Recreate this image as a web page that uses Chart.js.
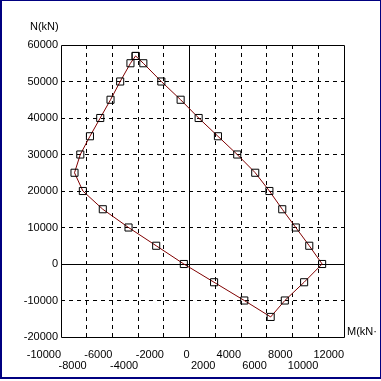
<!DOCTYPE html>
<html>
<head>
<meta charset="utf-8">
<script src="https://cdn.jsdelivr.net/npm/chart.js@4.4.0/dist/chart.umd.min.js"></script>
<style>
  html, body { margin: 0; padding: 0; background: #fff; }
  #wrap { position: relative; width: 381px; height: 381px; }
  #frame {
    position: absolute; left: 0; top: 0; width: 381px; height: 379px;
    box-sizing: border-box; pointer-events: none;
    border-top: 1px solid #000080; border-left: 2px solid #000080;
    border-right: 1px solid #000080; border-bottom: 2px solid #000080;
  }
</style>
</head>
<body>
<div id="wrap">
  <canvas id="mnChart" width="381" height="381"></canvas>
  <div id="frame"></div>
</div>
<script>
// M-N interaction curve (kN·m, kN)
const momentM = [-4200, -3600, -2200, -700, 700, 2200, 3700, 5100, 6200, 7200, 8250, 9300, 10300,
                 8900, 7400, 6300, 4250, 1900, -450, -2600, -4750, -6750, -8300, -8950, -8500,
                 -7750, -6950, -6150, -5400, -4600, -4200];
const axialN = [57000, 55000, 50000, 45000, 40000, 35000, 30000, 25000, 20000, 15000, 10000, 5000, 0,
                -5000, -10000, -14500, -10000, -5000, 0, 5000, 10000, 15000, 20000, 25000, 30000,
                35000, 40000, 45000, 50000, 55000, 57000];

// x tick labels that sit on the second row
const lowerRowTicks = [-8000, -4000, 2000, 6000, 10000];

const FONT = 'Liberation Sans, Arial, sans-serif';

const gridPlugin = {
    id: 'gridPlugin',
    beforeDatasetsDraw(chart) {
        const { ctx, chartArea: a, scales: { x, y } } = chart;
        ctx.save();
        ctx.strokeStyle = '#000';
        ctx.lineWidth = 1;
        ctx.setLineDash([4, 4]);
        ctx.beginPath();
        x.ticks.forEach(t => {
            if (t.value === 0 || t.value === x.min || t.value === x.max) return;
            const px = Math.floor(x.getPixelForValue(t.value)) + 0.5;
            ctx.moveTo(px, a.top);
            ctx.lineTo(px, a.bottom);
        });
        y.ticks.forEach(t => {
            if (t.value === 0 || t.value === y.min || t.value === y.max) return;
            const py = Math.floor(y.getPixelForValue(t.value)) + 0.5;
            ctx.moveTo(a.left, py);
            ctx.lineTo(a.right, py);
        });
        ctx.stroke();

        // zero axes and plot frame
        ctx.setLineDash([]);
        ctx.beginPath();
        const x0 = Math.floor(x.getPixelForValue(0)) + 0.5;
        const y0 = Math.floor(y.getPixelForValue(0)) + 0.5;
        ctx.moveTo(x0, a.top); ctx.lineTo(x0, a.bottom);
        ctx.moveTo(a.left, y0); ctx.lineTo(a.right, y0);
        ctx.rect(Math.floor(a.left) + 0.5, Math.floor(a.top) + 0.5,
                 Math.round(a.right - a.left), Math.round(a.bottom - a.top));
        ctx.stroke();
        ctx.restore();
    },
    afterDraw(chart) {
        const { ctx, chartArea: a } = chart;
        ctx.save();
        ctx.fillStyle = '#000';
        ctx.font = '11px ' + FONT;
        ctx.textBaseline = 'middle';
        ctx.textAlign = 'left';
        ctx.fillText('N(kN)', 30, 27);
        // axis title runs off the window edge in the original
        ctx.beginPath();
        ctx.rect(0, 0, 377, 381);
        ctx.clip();
        ctx.fillText('M(kN·m)', a.right + 3, a.bottom - 5);
        ctx.restore();
    }
};

const ctx = document.getElementById('mnChart').getContext('2d');

new Chart(ctx, {
    type: 'scatter',
    data: {
        datasets: [{
            data: momentM.map((m, i) => ({ x: m, y: axialN[i] })),
            showLine: true,
            borderColor: '#800000',
            borderWidth: 1,
            pointStyle: 'rect',
            pointRadius: 5,
            pointHoverRadius: 5,
            pointBorderColor: '#000',
            pointBorderWidth: 1,
            pointBackgroundColor: 'rgba(0,0,0,0)',
            tension: 0
        }]
    },
    options: {
        responsive: false,
        animation: false,
        events: [],
        layout: { padding: { top: 45, right: 37, bottom: 0, left: 0 } },
        plugins: {
            legend: { display: false },
            tooltip: { enabled: false }
        },
        scales: {
            x: {
                type: 'linear',
                min: -10000,
                max: 12000,
                grid: { display: false, drawTicks: false },
                border: { display: false },
                afterFit: scale => { scale.height = 44; },
                ticks: {
                    stepSize: 2000,
                    autoSkip: false,
                    maxRotation: 0,
                    align: 'end',
                    padding: 12,
                    color: '#000',
                    font: { family: FONT, size: 11, lineHeight: 1 },
                    callback: v => lowerRowTicks.includes(v) ? ['', String(v)] : String(v)
                }
            },
            y: {
                type: 'linear',
                min: -20000,
                max: 60000,
                grid: { display: false, drawTicks: false },
                border: { display: false },
                afterFit: scale => { scale.width = 61; },
                ticks: {
                    stepSize: 10000,
                    autoSkip: false,
                    padding: 3,
                    color: '#000',
                    font: { family: FONT, size: 11 },
                    callback: v => String(v)
                }
            }
        }
    },
    plugins: [gridPlugin]
});
</script>
</body>
</html>
